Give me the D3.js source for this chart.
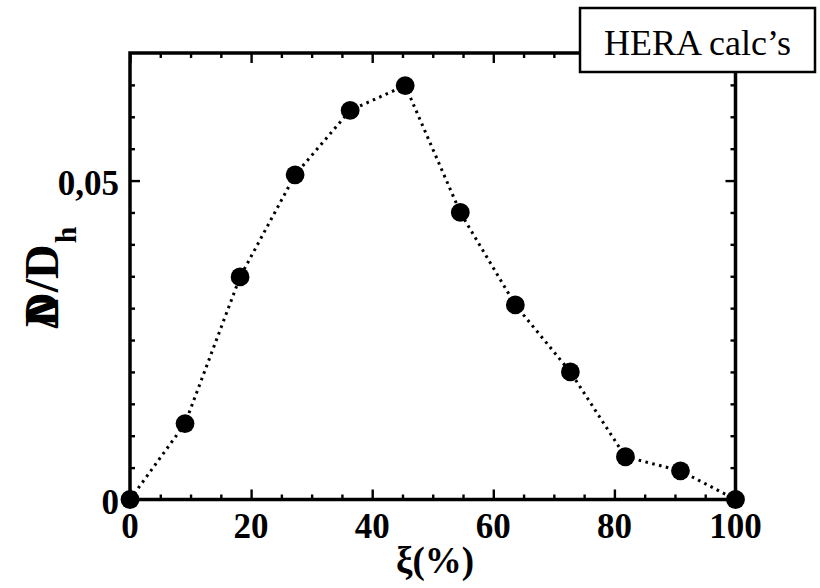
<!DOCTYPE html>
<html>
<head>
<meta charset="utf-8">
<script src="https://cdn.jsdelivr.net/npm/d3@7"></script>
<style>
html,body{margin:0;padding:0;background:#fff;}
svg{display:block;}
text{font-family:"Liberation Serif","Times New Roman",serif;fill:#000;}
</style>
</head>
<body>
<svg id="chart" width="820" height="588"></svg>
<script>
// ---- data ----
const xi = [0, 9.09, 18.18, 27.27, 36.36, 45.45, 54.55, 63.64, 72.73, 81.82, 90.91, 100];
const dD = [0, 0.0119, 0.0349, 0.0509, 0.0610, 0.0649, 0.0450, 0.0305, 0.0200, 0.0067, 0.0045, 0];
const xMajorTicks = [0, 20, 40, 60, 80, 100];
const xMinorTicks = [5,10,15,25,30,35,45,50,55,65,70,75,85,90,95];
const yMajorTicks = [0, 0.05];
const yMajorLabels = ["0", "0,05"];
const yMinorTicks = [0.005,0.01,0.015,0.02,0.025,0.03,0.035,0.04,0.045,0.055,0.06,0.065];
const legendText = "HERA calc\u2019s";
const xTitle = "\u03BE(%)";

// ---- layout ----
const L = 130, R = 735.5, T = 53, B = 499.5;
const svg = d3.select("#chart");
const x = d3.scaleLinear().domain([0, 100]).range([L, R]);
const y = d3.scaleLinear().domain([0, 0.07]).range([B, T]);

const AX = 3.5;
function styleAxis(g){
  g.select(".domain").remove();
  g.selectAll(".tick line").attr("stroke", "#000").attr("stroke-width", 2.4);
  g.selectAll(".tick text").remove();
}
[[d3.axisBottom, B], [d3.axisTop, T]].forEach(([fn, pos]) => {
  svg.append("g").attr("transform", `translate(0,${pos})`)
    .call(fn(x).tickValues(xMajorTicks).tickSize(-10).tickFormat("")).call(styleAxis);
  svg.append("g").attr("transform", `translate(0,${pos})`)
    .call(fn(x).tickValues(xMinorTicks).tickSize(-5).tickFormat("")).call(styleAxis);
});
[[d3.axisLeft, L], [d3.axisRight, R]].forEach(([fn, pos]) => {
  svg.append("g").attr("transform", `translate(${pos},0)`)
    .call(fn(y).tickValues(yMajorTicks).tickSize(-10).tickFormat("")).call(styleAxis);
  svg.append("g").attr("transform", `translate(${pos},0)`)
    .call(fn(y).tickValues(yMinorTicks).tickSize(-5).tickFormat("")).call(styleAxis);
});

// frame
svg.append("rect").attr("x", L).attr("y", T).attr("width", R - L).attr("height", B - T)
  .attr("fill", "none").attr("stroke", "#000").attr("stroke-width", AX);

// tick labels
svg.append("g").selectAll("text").data(xMajorTicks).join("text")
  .attr("x", d => x(d)).attr("y", 538).attr("text-anchor", "middle")
  .attr("font-size", 35).attr("font-weight", "bold").text(d => d);
svg.append("g").selectAll("text").data(yMajorTicks).join("text")
  .attr("x", 119).attr("y", d => y(d) + 14).attr("text-anchor", "end")
  .attr("font-size", 35).attr("font-weight", "bold").text((d, i) => yMajorLabels[i]);

// data line
const pts = xi.map((v, i) => [v, dD[i]]);
svg.append("path").datum(pts)
  .attr("d", d3.line().x(d => x(d[0])).y(d => y(d[1])))
  .attr("fill", "none").attr("stroke", "#000").attr("stroke-width", 3)
  .attr("stroke-dasharray", "2.6,4.4");
svg.append("g").selectAll("circle").data(pts).join("circle")
  .attr("cx", d => x(d[0])).attr("cy", d => y(d[1])).attr("r", 9.4).attr("fill", "#000");

// x title
svg.append("text").attr("x", 435).attr("y", 573).attr("text-anchor", "middle")
  .attr("font-size", 37).attr("font-weight", "bold").text(xTitle);

// y title (rotated)
const yt = svg.append("text").attr("transform", "translate(58,329) rotate(-90)")
  .attr("font-size", 48).attr("font-weight", "bold");
const delta = yt.append("tspan").text("\u0394");
const dw = delta.node().getComputedTextLength();
yt.append("tspan").attr("dx", -dw + 2).text("D/D");
yt.append("tspan").attr("font-size", 30).attr("dy", 18).attr("dx", 1).text("h");

// legend box
svg.append("rect").attr("x", 580).attr("y", 8).attr("width", 235).attr("height", 64)
  .attr("fill", "#fff").attr("stroke", "#000").attr("stroke-width", 2.5);
svg.append("text").attr("x", 697.5).attr("y", 55).attr("text-anchor", "middle")
  .attr("font-size", 36).text(legendText);
</script>
</body>
</html>
